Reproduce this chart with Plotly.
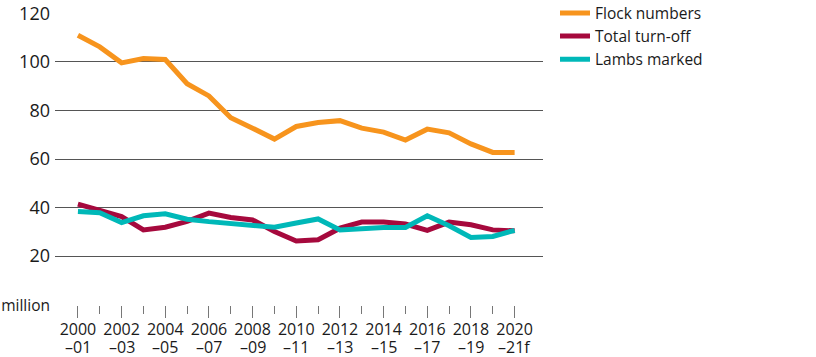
import plotly.graph_objects as go

years = list(range(2000, 2021))
flock = [111, 106.2, 99.6, 101.4, 101, 91, 86, 77, 72.7, 68.2, 73.4, 75, 75.8, 72.7, 71.1, 67.8, 72.3, 70.8, 66.2, 62.7, 62.7]
turnoff = [41.4, 38.8, 36.3, 30.8, 31.9, 34.3, 37.7, 35.9, 34.9, 30.1, 26.2, 26.7, 31.5, 34, 34, 33.2, 30.6, 34, 32.9, 30.8, 30.4]
lambs = [38.4, 37.9, 33.8, 36.6, 37.4, 35.2, 34.2, 33.3, 32.7, 31.9, 33.6, 35.3, 30.8, 31.5, 31.8, 31.8, 36.6, 32.5, 27.7, 28.1, 30.6]

series_names = ["Flock numbers", "Total turn-off", "Lambs marked"]
colors = ["#F7941D", "#A6093D", "#00B8B8"]

x_tickvals = list(range(2000, 2021, 2))
x_ticktext = ["2000", "2002", "2004", "2006", "2008", "2010", "2012", "2014", "2016", "2018", "2020"]
x_subtext = ["\u201301", "\u201303", "\u201305", "\u201307", "\u201309", "\u201311",
             "\u201313", "\u201315", "\u201317", "\u201319", "\u201321f"]
y_tickvals = [0, 20, 40, 60, 80, 100, 120]
y_ticktext = ['<span style="font-size:15.5px">million</span>', "20", "40", "60", "80", "100", "120"]

fig = go.Figure()
for name, vals, col in zip(series_names, [flock, turnoff, lambs], colors):
    fig.add_trace(go.Scatter(x=years, y=vals, mode="lines", name=name,
                             line=dict(color=col, width=5)))

font = "Open Sans, sans-serif"
for xv, st in zip(x_tickvals, x_subtext):
    fig.add_annotation(x=xv, xref="x", y=-(347 - 305) / 292, yref="paper",
                       text=st, showarrow=False, xanchor="center", yanchor="middle",
                       font=dict(size=16, family=font, color="#1a1a1a"))

fig.update_layout(
    width=816, height=357,
    margin=dict(l=55, r=273, t=13, b=52, autoexpand=False),
    paper_bgcolor="white", plot_bgcolor="white",
    font=dict(family=font, size=16, color="#1a1a1a"),
    showlegend=True,
    legend=dict(x=(555 - 55) / 488, y=1.057, xanchor="left", yanchor="top",
                font=dict(size=15.5), itemwidth=30, tracegroupgap=0,
                bgcolor="rgba(0,0,0,0)"),
    xaxis=dict(range=[1998.95, 2021.3], tickvals=x_tickvals, ticktext=x_ticktext,
               ticks="outside", ticklen=12, tickcolor="#777", tickwidth=1, tickangle=0,
               ticklabelstandoff=-2,
               showgrid=False, zeroline=False, showline=False, automargin=False,
               tickfont=dict(size=16),
               minor=dict(tickmode="array", tickvals=[y for y in years if y % 2 == 1],
                          ticks="outside", ticklen=8, tickcolor="#777", tickwidth=1,
                          showgrid=False)),
    yaxis=dict(range=[-0.15, 120.15], tickvals=y_tickvals, ticktext=y_ticktext,
               showgrid=True, gridcolor="#555", gridwidth=1, automargin=False,
               zeroline=False, showline=False, ticks="", ticklabelstandoff=4,
               tickfont=dict(size=18)),
)
fig.write_html("out.html", config={"displayModeBar": False},
               post_script="document.body.style.margin='0';document.body.style.overflow='hidden';")
